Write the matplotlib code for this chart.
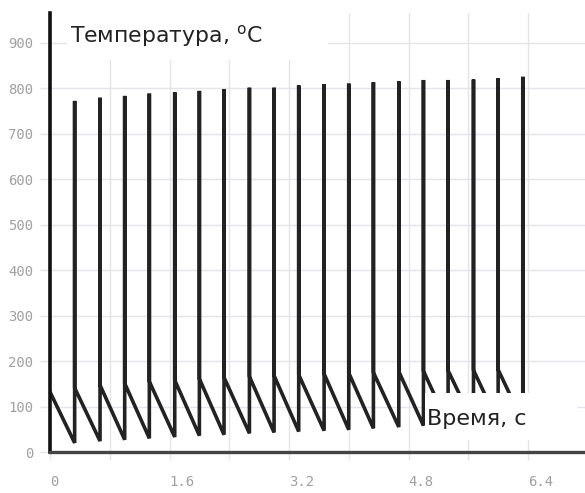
import matplotlib
matplotlib.use("Agg")
import matplotlib.pyplot as plt
from matplotlib.patches import Rectangle

# ---- data ----
start_time = 0.0
start_temp = 132
spike_times = [0.33, 0.67, 1.00, 1.33, 1.67, 2.00, 2.33, 2.67, 3.00, 3.33,
               3.67, 4.00, 4.33, 4.67, 5.00, 5.33, 5.67, 6.00, 6.33]
min_temps = [20, 24, 27, 30, 33, 36, 38, 41, 43, 45,
             47, 49, 52, 55, 58, 61, 63, 65, 67]
peak_temps = [772, 779, 783, 788, 791, 794, 798, 801, 801, 806,
              809, 810, 813, 815, 818, 818, 819, 822, 825]
after_temps = [141, 147, 151, 155, 158, 161, 164, 166, 168, 170,
               172, 174, 175, 177, 178, 179, 180, 181, 60]
x_ticks = [0, 1.6, 3.2, 4.8, 6.4]
x_tick_labels = ["0", "1.6", "3.2", "4.8", "6.4"]
y_ticks = [0, 100, 200, 300, 400, 500, 600, 700, 800, 900]
y_label = "Температура, $^{\\mathregular{o}}$C"
x_label = "Время, с"

# build path
ts = [start_time]
vs = [start_temp]
for t, lo, hi, af in zip(spike_times, min_temps, peak_temps, after_temps):
    ts += [t, t, t]
    vs += [lo, hi, af]

W, H = 585, 493
fig = plt.figure(figsize=(W / 100, H / 100), dpi=100)
ax = fig.add_axes([50 / W, 41 / H, 535 / W, 439 / H])
ax.set_xlim(0, 535 / 74.69)
ax.set_ylim(0, 439 / 0.4548)

grid_c = "#e3e5ea"
ax.set_xticks(x_ticks)
ax.set_xticks([0.8, 2.4, 4.0, 5.6], minor=True)
ax.set_xticklabels(x_tick_labels)
ax.set_yticks(y_ticks)
ax.grid(True, which="both", color=grid_c, lw=1)
ax.set_axisbelow(True)
ax.tick_params(axis="both", which="both", color=grid_c, width=1,
               labelcolor="#a0a0a0", labelsize=10)
ax.tick_params(axis="x", which="both", length=6, pad=10.5)
ax.tick_params(axis="y", length=7, pad=5)
for lab in ax.get_xticklabels():
    lab.set_horizontalalignment("left")
    lab.set_family("DejaVu Sans Mono")
for lab in ax.get_yticklabels():
    lab.set_family("DejaVu Sans Mono")

for s in ("top", "right"):
    ax.spines[s].set_visible(False)
ax.spines["left"].set_color("#111111")
ax.spines["left"].set_linewidth(2.6)
ax.spines["bottom"].set_color("#444444")
ax.spines["bottom"].set_linewidth(2.4)

ax.plot(ts, vs, color="#222222", lw=2.6, solid_joinstyle="bevel", zorder=2)

# white label boxes
ax.add_patch(Rectangle((17 / 535, 392 / 439), 261 / 535, 47 / 439,
                       transform=ax.transAxes, facecolor="white",
                       edgecolor="none", zorder=3, clip_on=False))
ax.add_patch(Rectangle((375 / 535, 12 / 439), 152 / 535, 47 / 439,
                       transform=ax.transAxes, facecolor="white",
                       edgecolor="none", zorder=3))

ax.text(20 / 535, 410 / 439, y_label, transform=ax.transAxes,
        fontsize=15.8, color="#222222", va="baseline", ha="left", zorder=4)
ax.text(377 / 535, 27 / 439, x_label, transform=ax.transAxes,
        fontsize=16, color="#222222", va="baseline", ha="left", zorder=4)

fig.savefig("out.png", dpi=100)
